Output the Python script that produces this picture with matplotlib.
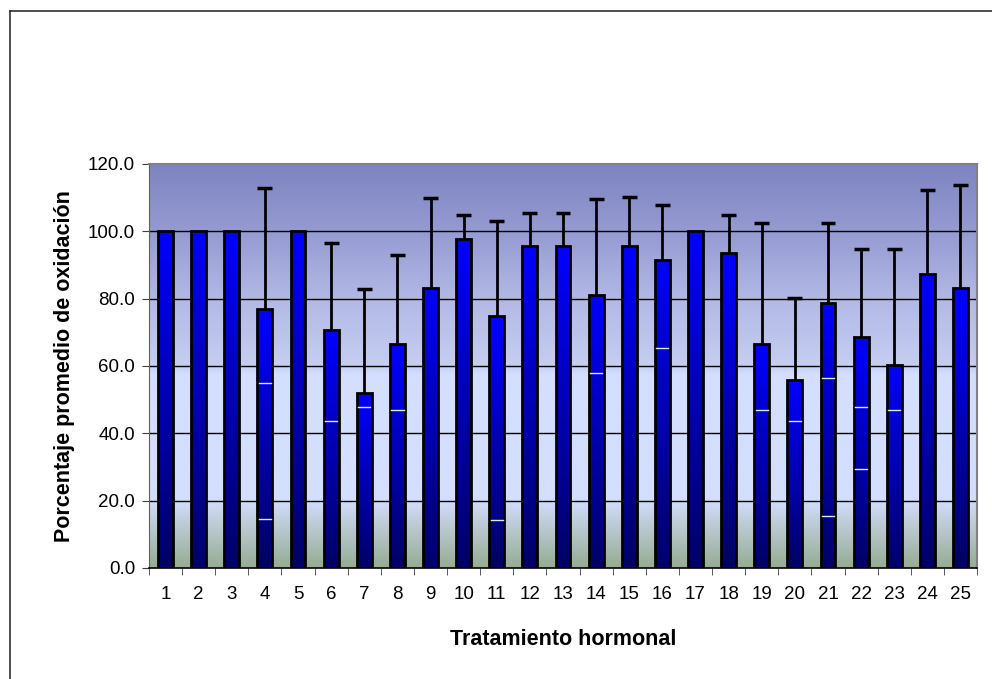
import numpy as np
import matplotlib
matplotlib.use("Agg")
import matplotlib.pyplot as plt
from matplotlib.colors import LinearSegmentedColormap
from matplotlib.lines import Line2D

plt.rcParams['font.family'] = ['Liberation Sans', 'DejaVu Sans']

# ---- data ----
categories = [str(i) for i in range(1, 26)]
means = [100, 100, 100, 77.0, 100, 70.7, 51.9, 66.4, 83.3, 97.7,
         75.0, 95.6, 95.6, 81.1, 95.6, 91.6, 100, 93.6, 66.6, 55.9,
         78.8, 68.6, 60.2, 87.2, 83.2]
upper_ends = [100, 100, 100, 113.0, 100, 96.5, 83.0, 93.1, 109.9, 105.0,
              103.0, 105.4, 105.4, 109.5, 110.1, 107.9, 100, 104.9, 102.4, 80.1,
              102.4, 94.9, 94.7, 112.2, 113.9]
# small white marks visible inside some bars (category index, value)
mark_cats = [4, 4, 6, 7, 8, 11, 14, 16, 19, 20, 21, 21, 22, 22, 23]
mark_vals = [55.0, 14.7, 43.8, 47.9, 47.0, 14.4, 58.0, 65.4, 47.0, 43.8,
             56.5, 15.3, 47.9, 29.5, 47.0]
yticks = [0, 20, 40, 60, 80, 100, 120]

W, H = 992, 679
fig = plt.figure(figsize=(W / 100, H / 100), dpi=100)
fig.patch.set_facecolor('white')

L, R, T, B = 149, 977, 164, 568
ax = fig.add_axes([L / W, 1 - B / H, (R - L) / W, (B - T) / H])

x = np.arange(1, len(categories) + 1)
ax.set_xlim(0.5, len(categories) + 0.5)
ax.set_ylim(0, 120)

# background gradient
bg = LinearSegmentedColormap.from_list('bg', [
    (0.0, (150/255, 172/255, 146/255)),
    (0.17, (212/255, 222/255, 255/255)),
    (0.48, (212/255, 222/255, 255/255)),
    (0.50, (198/255, 206/255, 242/255)),
    (0.67, (178/255, 184/255, 228/255)),
    (0.83, (150/255, 155/255, 210/255)),
    (1.0, (126/255, 132/255, 192/255)),
])
grad = np.linspace(0, 1, 256).reshape(-1, 1)
ax.imshow(grad, cmap=bg, origin='lower', aspect='auto',
          extent=[0.5, len(categories) + 0.5, 0, 120], zorder=0)

for yv in yticks[1:-1]:
    ax.axhline(yv, color='black', lw=1.0, zorder=1)

# bars with vertical gradient
barcm = LinearSegmentedColormap.from_list('bar', [(0, 0, 0.40), (0, 0, 1.0)])
width = 0.45
bars = ax.bar(x, means, width=width, color='none', edgecolor='black',
              linewidth=2.0, zorder=3)
for b in bars:
    bx, by = b.get_x(), b.get_y()
    bw, bh = b.get_width(), b.get_height()
    im = ax.imshow(grad, cmap=barcm, origin='lower', aspect='auto',
                   extent=[bx, bx + bw, by, by + bh], zorder=2)
    im.set_clip_path(b)

# white marks
for c, v in zip(mark_cats, mark_vals):
    ax.plot([c - width / 2 + 0.04, c + width / 2 - 0.04], [v, v],
            color='#e0e8ff', lw=1.0, zorder=4)

# upper error bars
for xi, m, u in zip(x, means, upper_ends):
    if u > m + 0.01:
        ax.plot([xi, xi], [m, u], color='black', lw=2.0, zorder=2.5,
                solid_capstyle='butt')
        ax.plot([xi - width / 2, xi + width / 2], [u, u], color='black',
                lw=2.5, zorder=5, solid_capstyle='butt')

# axes styling
for s in ['top', 'right']:
    ax.spines[s].set_color('#808080')
    ax.spines[s].set_linewidth(1.5)
ax.spines['left'].set_color('#606060')
ax.spines['bottom'].set_color('black')
ax.spines['bottom'].set_linewidth(1.2)

ax.set_yticks(yticks)
ax.set_yticklabels([f"{v:.1f}" for v in yticks], fontsize=13.5)
ax.tick_params(axis='y', direction='out', length=5, color='#404040', pad=5)

ax.set_xticks(x)
ax.set_xticklabels(categories, fontsize=13.5)
ax.tick_params(axis='x', which='major', length=0, pad=13)
ax.set_xticks(np.arange(0.5, len(categories) + 1), minor=True)
ax.tick_params(axis='x', which='minor', direction='out', length=5, color='#404040')

ax.set_ylabel('Porcentaje promedio de oxidación', fontsize=15.5,
              fontweight='bold', labelpad=9)
ax.set_xlabel('Tratamiento hormonal', fontsize=15.5, fontweight='bold',
              labelpad=19)

# outer frame lines (left and top only visible)
fig.add_artist(Line2D([10 / W, 10 / W], [0, 1 - 10.5 / H], transform=fig.transFigure,
                      color='#303030', lw=1.2))
fig.add_artist(Line2D([10 / W, 1], [1 - 10.5 / H, 1 - 10.5 / H], transform=fig.transFigure,
                      color='#303030', lw=1.2))

fig.savefig('out.png', dpi=100, facecolor='white')
